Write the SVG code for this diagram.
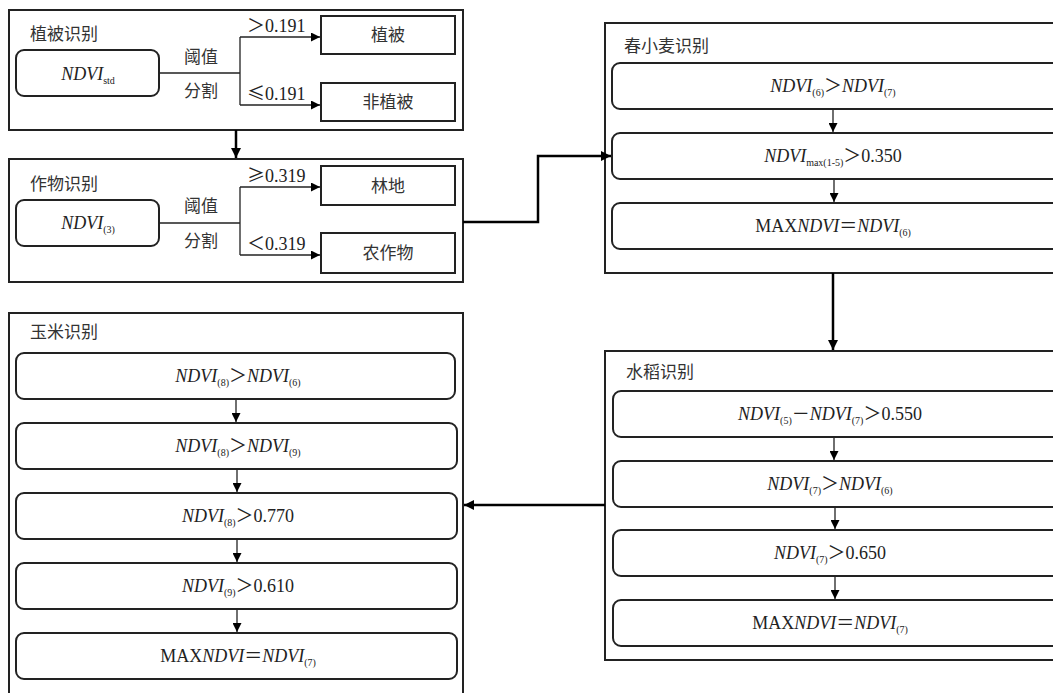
<svg xmlns="http://www.w3.org/2000/svg" width="1053" height="693" viewBox="0 0 1053 693">
<defs>
<marker id="ah" viewBox="0 0 10 10" refX="10" refY="5" markerWidth="10" markerHeight="10" markerUnits="userSpaceOnUse" orient="auto"><path d="M0,0 L10,5 L0,10 z" fill="#000"/></marker>
<marker id="ahs" viewBox="0 0 10 10" refX="10" refY="5" markerWidth="9" markerHeight="9" markerUnits="userSpaceOnUse" orient="auto"><path d="M0,0 L10,5 L0,10 z" fill="#000"/></marker>
</defs>
<style>
.outer{fill:#fff;stroke:#222;stroke-width:2}
.rr{fill:#fff;stroke:#222;stroke-width:2}
.box{fill:#fff;stroke:#222;stroke-width:2}
.cn{font-family:"Noto Sans CJK SC",sans-serif;font-size:17px;fill:#333}
.f{font-family:"Liberation Serif",serif;font-size:18px;fill:#222;text-anchor:middle}
.num{font-family:"Liberation Serif",serif;font-size:18px;fill:#222}
.i{font-style:italic}
.s{font-size:10px}
.w{font-family:"Noto Sans CJK SC",sans-serif;font-style:normal}
.thin{fill:none;stroke:#222;stroke-width:1.3}
.thick{fill:none;stroke:#000;stroke-width:2.5}
</style>

<g id="veg">
<rect class="outer" x="9" y="10" width="454" height="120"/>
<text class="cn" x="30" y="40">植被识别</text>
<rect class="rr" x="16" y="50" width="143" height="46" rx="8"/>
<text class="f" x="88" y="80"><tspan class="i">NDVI</tspan><tspan class="s" dy="4">std</tspan></text>
<text class="cn" x="184" y="63">阈值</text>
<text class="cn" x="184" y="97">分割</text>
<text class="num" x="247" y="32"><tspan class="w">＞</tspan><tspan>0.191</tspan></text>
<text class="num" x="247" y="100"><tspan class="w">≤</tspan><tspan>0.191</tspan></text>
<rect class="box" x="321" y="16" width="134" height="38"/>
<text class="cn" x="388" y="41" text-anchor="middle">植被</text>
<rect class="box" x="321" y="83" width="134" height="38"/>
<text class="cn" x="388" y="108" text-anchor="middle">非植被</text>
</g>

<g id="crop">
<rect class="outer" x="9" y="159" width="454" height="123"/>
<text class="cn" x="30" y="190">作物识别</text>
<rect class="rr" x="16" y="200" width="143" height="46" rx="8"/>
<text class="f" x="88" y="229"><tspan class="i">NDVI</tspan><tspan class="s" dy="4">(3)</tspan></text>
<text class="cn" x="184" y="212">阈值</text>
<text class="cn" x="184" y="247">分割</text>
<text class="num" x="247" y="182"><tspan class="w">≥</tspan><tspan>0.319</tspan></text>
<text class="num" x="247" y="250"><tspan class="w">＜</tspan><tspan>0.319</tspan></text>
<rect class="box" x="321" y="166" width="134" height="39"/>
<text class="cn" x="388" y="192" text-anchor="middle">林地</text>
<rect class="box" x="321" y="233" width="134" height="40"/>
<text class="cn" x="388" y="259" text-anchor="middle">农作物</text>
</g>

<g id="wheat">
<rect class="outer" x="605" y="23" width="460" height="250"/>
<text class="cn" x="624" y="52">春小麦识别</text>
<rect class="rr" x="612" y="63" width="460" height="46" rx="8"/>
<text class="f" x="833" y="92"><tspan class="i">NDVI</tspan><tspan class="s" dy="4">(6)</tspan><tspan class="w" dy="-4">＞</tspan><tspan class="i">NDVI</tspan><tspan class="s" dy="4">(7)</tspan></text>
<rect class="rr" x="612" y="133" width="460" height="46" rx="8"/>
<text class="f" x="833" y="162"><tspan class="i">NDVI</tspan><tspan class="s" dy="4">max(1-5)</tspan><tspan class="w" dy="-4">＞</tspan><tspan>0.350</tspan></text>
<rect class="rr" x="612" y="203" width="460" height="46" rx="8"/>
<text class="f" x="833" y="232"><tspan>MAX</tspan><tspan class="i">NDVI</tspan><tspan class="w">＝</tspan><tspan class="i">NDVI</tspan><tspan class="s" dy="4">(6)</tspan></text>
</g>

<g id="rice">
<rect class="outer" x="605" y="351" width="460" height="309"/>
<text class="cn" x="626" y="378">水稻识别</text>
<rect class="rr" x="613" y="391" width="460" height="46" rx="8"/>
<text class="f" x="830" y="420"><tspan class="i">NDVI</tspan><tspan class="s" dy="4">(5)</tspan><tspan class="w" dy="-4">－</tspan><tspan class="i">NDVI</tspan><tspan class="s" dy="4">(7)</tspan><tspan class="w" dy="-4">＞</tspan><tspan>0.550</tspan></text>
<rect class="rr" x="613" y="461" width="460" height="46" rx="8"/>
<text class="f" x="830" y="490"><tspan class="i">NDVI</tspan><tspan class="s" dy="4">(7)</tspan><tspan class="w" dy="-4">＞</tspan><tspan class="i">NDVI</tspan><tspan class="s" dy="4">(6)</tspan></text>
<rect class="rr" x="613" y="530" width="460" height="46" rx="8"/>
<text class="f" x="830" y="559"><tspan class="i">NDVI</tspan><tspan class="s" dy="4">(7)</tspan><tspan class="w" dy="-4">＞</tspan><tspan>0.650</tspan></text>
<rect class="rr" x="613" y="600" width="460" height="46" rx="8"/>
<text class="f" x="830" y="629"><tspan>MAX</tspan><tspan class="i">NDVI</tspan><tspan class="w">＝</tspan><tspan class="i">NDVI</tspan><tspan class="s" dy="4">(7)</tspan></text>
</g>

<g id="corn">
<rect class="outer" x="9" y="313" width="454" height="400"/>
<text class="cn" x="30" y="338">玉米识别</text>
<rect class="rr" x="16" y="353" width="439" height="46" rx="8"/>
<text class="f" x="238" y="382"><tspan class="i">NDVI</tspan><tspan class="s" dy="4">(8)</tspan><tspan class="w" dy="-4">＞</tspan><tspan class="i">NDVI</tspan><tspan class="s" dy="4">(6)</tspan></text>
<rect class="rr" x="16" y="423" width="441" height="46" rx="8"/>
<text class="f" x="238" y="452"><tspan class="i">NDVI</tspan><tspan class="s" dy="4">(8)</tspan><tspan class="w" dy="-4">＞</tspan><tspan class="i">NDVI</tspan><tspan class="s" dy="4">(9)</tspan></text>
<rect class="rr" x="16" y="493" width="441" height="46" rx="8"/>
<text class="f" x="238" y="522"><tspan class="i">NDVI</tspan><tspan class="s" dy="4">(8)</tspan><tspan class="w" dy="-4">＞</tspan><tspan>0.770</tspan></text>
<rect class="rr" x="16" y="563" width="441" height="46" rx="8"/>
<text class="f" x="238" y="592"><tspan class="i">NDVI</tspan><tspan class="s" dy="4">(9)</tspan><tspan class="w" dy="-4">＞</tspan><tspan>0.610</tspan></text>
<rect class="rr" x="16" y="633" width="441" height="46" rx="8"/>
<text class="f" x="238" y="662"><tspan>MAX</tspan><tspan class="i">NDVI</tspan><tspan class="w">＝</tspan><tspan class="i">NDVI</tspan><tspan class="s" dy="4">(7)</tspan></text>
</g>

<g id="connectors">
<path class="thin" d="M159,73 H240 M240,37 V105"/>
<path class="thin" d="M240,37 H320" marker-end="url(#ahs)"/>
<path class="thin" d="M240,105 H320" marker-end="url(#ahs)"/>
<path class="thin" d="M159,223 H240 M240,187 V255"/>
<path class="thin" d="M240,187 H320" marker-end="url(#ahs)"/>
<path class="thin" d="M240,255 H320" marker-end="url(#ahs)"/>
<path class="thick" d="M236,130 V158" marker-end="url(#ah)"/>
<path class="thick" d="M463,222 H538 V156 H611" marker-end="url(#ah)"/>
<path class="thick" d="M833,273 V350" marker-end="url(#ah)"/>
<path class="thick" d="M605,505 H464" marker-end="url(#ah)"/>
<path class="thin" d="M833,109 V132" marker-end="url(#ahs)"/>
<path class="thin" d="M834,179 V202" marker-end="url(#ahs)"/>
<path class="thin" d="M834,437 V460" marker-end="url(#ahs)"/>
<path class="thin" d="M835,507 V529" marker-end="url(#ahs)"/>
<path class="thin" d="M835,576 V599" marker-end="url(#ahs)"/>
<path class="thin" d="M236,399 V422" marker-end="url(#ahs)"/>
<path class="thin" d="M237,469 V492" marker-end="url(#ahs)"/>
<path class="thin" d="M237,539 V562" marker-end="url(#ahs)"/>
<path class="thin" d="M237,609 V632" marker-end="url(#ahs)"/>
</g>
</svg>
